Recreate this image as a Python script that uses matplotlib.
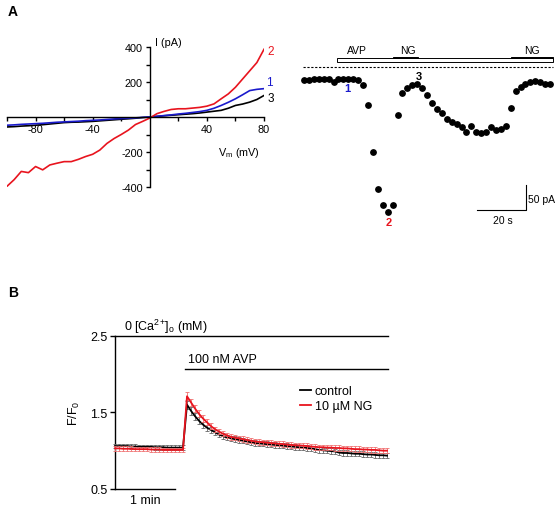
import numpy as np
import matplotlib
matplotlib.use("Agg")
import matplotlib.pyplot as plt
from matplotlib.patches import Rectangle
from matplotlib.lines import Line2D

plt.rcParams['font.family'] = ['Liberation Sans', 'DejaVu Sans']
plt.rcParams['font.size'] = 7.5
plt.rcParams['axes.unicode_minus'] = False
plt.rcParams['mathtext.fontset'] = 'custom'
plt.rcParams['mathtext.rm'] = 'Liberation Sans'
plt.rcParams['mathtext.it'] = 'Liberation Sans:italic'

# --- A, left: I-V curves (mV, pA) ---
vm = np.arange(-100, 81, 5)
iv_2 = [-396, -358, -311, -318, -283, -302, -274, -264, -255, -255, -242, -226, -213,
        -189, -151, -123, -100, -75, -43, -25, -6, 19, 32, 43, 47, 47, 51, 55, 62,
        75, 104, 132, 170, 217, 264, 311, 387]
iv_1 = [-47, -45, -42, -40, -38, -36, -33, -30, -28, -26, -24, -21, -19, -17, -14, -11,
        -9, -7, -5, -2, 0, 4, 8, 12, 17, 21, 26, 31, 38, 50, 66, 84, 104, 127, 151, 158, 162]
iv_3 = [-57, -55, -52, -50, -47, -44, -40, -36, -32, -30, -29, -27, -25, -22, -19, -16,
        -13, -10, -7, -3, 0, 3, 7, 10, 13, 16, 19, 23, 28, 33, 38, 50, 66, 74, 85, 100, 123]

# --- A, right: current over time (s, pA), one point every 2 s ---
tc_current = [-25, -25, -24, -23, -23, -24, -29, -23, -23, -23, -23, -25, -35, -76,
              -169, -243, -276, -289, -276, -96, -51, -41, -35, -33, -41, -55, -71,
              -83, -91, -103, -109, -113, -120, -130, -117, -129, -132, -129, -119,
              -126, -124, -117, -81, -48, -39, -33, -30, -28, -29, -33, -33]
tc_time = np.arange(len(tc_current)) * 2

# --- B: F/F0 over time (s), one point every 4 s ---
ctrl = [1.06, 1.06, 1.06, 1.06, 1.055, 1.055, 1.05, 1.05, 1.05, 1.05, 1.045, 1.045,
        1.045, 1.04, 1.04, 1.04, 1.04, 1.04,
        1.60, 1.52, 1.45, 1.39, 1.34, 1.30, 1.27, 1.24, 1.21, 1.19, 1.17, 1.16, 1.15,
        1.14, 1.13, 1.12, 1.11, 1.10, 1.095, 1.09, 1.085, 1.08, 1.075, 1.07, 1.065,
        1.06, 1.055, 1.05, 1.045, 1.04, 1.035, 1.03, 1.02, 1.01, 1.005, 1.0, 0.995,
        0.99, 0.975, 0.97, 0.97, 0.965, 0.96, 0.96, 0.955, 0.95, 0.95, 0.945, 0.94,
        0.94, 0.935]
ng = [1.03, 1.03, 1.025, 1.025, 1.025, 1.02, 1.02, 1.02, 1.02, 1.015, 1.015, 1.015,
      1.01, 1.01, 1.01, 1.01, 1.01, 1.01,
      1.71, 1.63, 1.55, 1.48, 1.42, 1.37, 1.32, 1.28, 1.25, 1.22, 1.20, 1.18, 1.17,
      1.16, 1.15, 1.14, 1.13, 1.12, 1.115, 1.11, 1.105, 1.10, 1.095, 1.09, 1.085,
      1.08, 1.075, 1.07, 1.07, 1.065, 1.06, 1.055, 1.05, 1.045, 1.045, 1.04, 1.04,
      1.035, 1.035, 1.03, 1.03, 1.025, 1.02, 1.02, 1.015, 1.015, 1.01, 1.01, 1.005,
      1.0, 1.0]
ctrl_err = [0.03] * 18 + [0.05, 0.05, 0.045, 0.045, 0.04, 0.04] + [0.035] * 45
ng_err = [0.03] * 18 + [0.05, 0.05, 0.045, 0.045, 0.04, 0.04] + [0.035] * 45
t_b = np.arange(len(ctrl)) * 4

W, H = 558, 506
fig = plt.figure(figsize=(W / 100, H / 100), dpi=100)


def px_axes(x0, y0, x1, y1):
    return fig.add_axes([x0 / W, 1 - y1 / H, (x1 - x0) / W, (y1 - y0) / H])


fig.text(8 / W, 1 - 12 / H, "A", fontsize=10, fontweight='bold', va='center')
fig.text(8 / W, 1 - 293 / H, "B", fontsize=10, fontweight='bold', va='center')

# ---------- A left ----------
ax1 = px_axes(7, 48, 264, 188)
ax1.plot(vm, iv_3, color='black', lw=1.2)
ax1.plot(vm, iv_1, color='#1a1acc', lw=1.2)
ax1.plot(vm, iv_2, color='#e8141e', lw=1.2)
ax1.set_xlim(-100, 80)
ax1.set_ylim(-400, 400)
ax1.spines['left'].set_position(('data', 0))
ax1.spines['bottom'].set_position(('data', 0))
ax1.spines['top'].set_visible(False)
ax1.spines['right'].set_visible(False)
for s in ('left', 'bottom'):
    ax1.spines[s].set_linewidth(1.0)
ax1.set_xticks([-80, -40, 40, 80])
ax1.set_xticks([-100, -60, -20, 20, 60], minor=True)
ax1.set_yticks([-400, -200, 200, 400])
ax1.set_yticks([-300, -100, 100, 300], minor=True)
ax1.tick_params(which='both', length=3, width=1.0, pad=2, labelsize=7.8)
ax1.text(4, 430, "I (pA)", fontsize=7.8, ha='left', va='center', clip_on=False)
ax1.text(48, -200, r"V$_\mathrm{m}$ (mV)", fontsize=7.8, ha='left', va='center')
ax1.text(85, 375, "2", color='#e8141e', fontsize=8.5, ha='center', va='center', clip_on=False)
ax1.text(84, 200, "1", color='#1a1acc', fontsize=8.5, ha='center', va='center', clip_on=False)
ax1.text(85, 110, "3", color='black', fontsize=8.5, ha='center', va='center', clip_on=False)

# ---------- A right ----------
ax2 = px_axes(290, 40, 556, 235)
ax2.set_xlim(-5.69, 102.4)
ax2.set_ylim(-334, 56)
ax2.axis('off')
ax2.scatter(tc_time, tc_current, s=15, color='black', zorder=3)
ax2.plot([-0.5, 101.2], [0, 0], ls=(0, (2, 1.5)), color='black', lw=0.8)
ax2.add_patch(Rectangle((13.3, 9.5), 101.2 - 13.3, 8, fc='white', ec='black', lw=0.7))
ax2.add_patch(Rectangle((36.3, 17.5), 10, 3, fc='black', ec='black', lw=0.7))
ax2.add_patch(Rectangle((84.2, 17.5), 101.2 - 84.2, 3, fc='black', ec='black', lw=0.7))
ax2.text(21.5, 34, "AVP", ha='center', va='center')
ax2.text(42.3, 34, "NG", ha='center', va='center')
ax2.text(92.5, 34, "NG", ha='center', va='center')
ax2.text(17.6, -42, "1", color='#1a1acc', fontsize=8, fontweight='bold', ha='center', va='center')
ax2.text(34.5, -310, "2", color='#e8141e', fontsize=8, fontweight='bold', ha='center', va='center')
ax2.text(46.8, -17, "3", color='black', fontsize=8, fontweight='bold', ha='center', va='center')
ax2.plot([70.3, 90.2, 90.2], [-286, -286, -236], color='black', lw=0.8)
ax2.text(91, -264, "50 pA", ha='left', va='center')
ax2.text(81, -306, "20 s", ha='center', va='center')

# ---------- B ----------
ax3 = px_axes(115, 336.7, 388, 490)
ax3.set_xlim(0, 273)
ax3.set_ylim(0.5, 2.5)
ax3.errorbar(t_b, ctrl, yerr=ctrl_err, color='black', ecolor='0.4', elinewidth=0.6,
             capsize=1.3, capthick=0.6, lw=1.3, zorder=3, clip_on=False)
ax3.errorbar(t_b, ng, yerr=ng_err, color='#e8141e', ecolor='#f07070', elinewidth=0.6,
             capsize=1.3, capthick=0.6, lw=1.3, zorder=4, clip_on=False)
for s in ('top', 'right', 'bottom'):
    ax3.spines[s].set_visible(False)
ax3.spines['left'].set_linewidth(1.0)
ax3.set_xticks([])
ax3.set_yticks([0.5, 1.5, 2.5])
ax3.set_yticklabels(["0.5", "1.5", "2.5"])
ax3.tick_params(axis='y', length=3.5, width=1.0, pad=2, labelsize=9)
ax3.set_ylabel(r"F/F$_0$", fontsize=9, labelpad=6)
ax3.plot([0, 273], [2.5, 2.5], color='black', lw=1.0, clip_on=False)
ax3.plot([70, 273], [2.066, 2.066], color='black', lw=1.0, clip_on=False)
ax3.plot([0, 60], [0.5, 0.5], color='black', lw=1.0, clip_on=False)
ax3.text(9, 2.63, r"0 [Ca$^{2}$$^{+}$]$_\mathrm{o}$ (mM)", fontsize=9, ha='left', va='center')
ax3.text(73, 2.19, "100 nM AVP", fontsize=9, ha='left', va='center')
ax3.text(30, 0.36, "1 min", fontsize=9, ha='center', va='center')
ax3.legend([Line2D([], [], color='black', lw=1.3), Line2D([], [], color='#e8141e', lw=1.3)],
           ["control", "10 \u00b5M NG"], loc='upper left', bbox_to_anchor=(0.645, 0.735),
           frameon=False, handlelength=0.9, handletextpad=0.3, labelspacing=0.25,
           fontsize=9, borderpad=0.2)

fig.savefig("out.png", dpi=100)
